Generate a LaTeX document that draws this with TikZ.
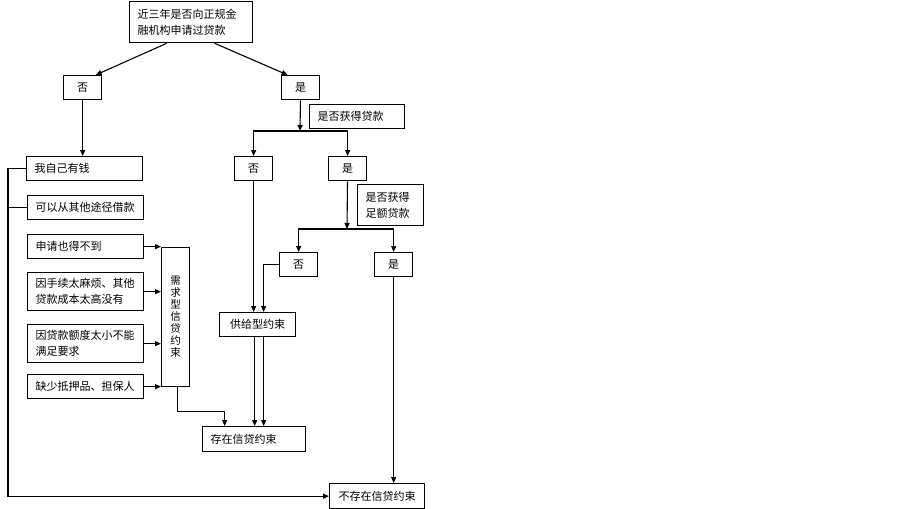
\documentclass[tikz,border=0pt]{standalone}
\usepackage{fontspec}
\newfontfamily\cjk{Noto Sans CJK SC}
\usetikzlibrary{arrows.meta}

\begin{document}
\begin{tikzpicture}[x=1pt, y=-1pt,
    box/.style={draw, line width=1.3pt, font=\cjk\fontsize{11}{16}\selectfont, inner xsep=8pt, inner ysep=0pt, align=left, anchor=north west},
    tag/.style={box, align=center, inner xsep=0pt, minimum width=38pt, minimum height=24pt},
    arr/.style={line width=1.1pt, -{Triangle[length=6pt,width=5pt]}},
    link/.style={line width=1.1pt}]
    \useasboundingbox (0,0) rectangle (903,509);

    \node[box, text width=107pt, minimum height=41pt] (ask) at (129,1) {近三年是否向正规金\\融机构申请过贷款};
    \node[tag] (no1) at (63,75) {否};
    \node[tag] (yes1) at (281,75) {是};
    \node[box, text width=79pt, minimum height=24pt] (got) at (309,104) {是否获得贷款};
    \node[tag] (no2) at (234,156) {否};
    \node[tag] (yes2) at (328,156) {是};
    \node[box, text width=50pt, minimum height=41pt] (enough) at (357,184) {是否获得\\足额贷款};
    \node[tag] (no3) at (279,252) {否};
    \node[tag] (yes3) at (374,252) {是};

    \node[box, text width=100pt, minimum height=24pt] (own) at (26,156) {我自己有钱};
    \node[box, text width=100pt, minimum height=24pt] (other) at (27,195) {可以从其他途径借款};
    \node[box, text width=100pt, minimum height=24pt] (refuse) at (27,234) {申请也得不到};
    \node[box, text width=100pt, minimum height=38pt] (cost) at (27,272) {因手续太麻烦、其他\\贷款成本太高没有};
    \node[box, text width=100pt, minimum height=38pt] (small) at (27,324) {因贷款额度太小不能\\满足要求};
    \node[box, text width=100pt, minimum height=24pt] (pledge) at (27,374) {缺少抵押品、担保人};
    \node[box, align=center, inner xsep=0pt, minimum width=28pt, minimum height=139pt, font=\cjk\fontsize{10.5}{12}\selectfont] (demand) at (161,247) {需\\求\\型\\信\\贷\\约\\束};

    \node[tag, minimum width=76pt] (supply) at (219,312) {供给型约束};
    \node[box, text width=87pt, minimum height=25pt] (exist) at (202,426) {存在信贷约束};
    \node[tag, minimum width=95pt, minimum height=25pt] (none) at (329,483) {不存在信贷约束};

    \coordinate (j1) at (300,131);
    \coordinate (j2) at (347,229);
    \coordinate (lft) at (8,0);

    \draw[arr] ([xshift=-24.5]ask.south) -- ([xshift=13]no1.north);
    \draw[arr] ([xshift=23.5]ask.south) -- ([xshift=-13]yes1.north);
    \draw[arr] (no1) -- (no1 |- own.north);
    \draw[arr] (yes1) -- (j1);
    \draw[arr] (j1) -| (no2.north);
    \draw[arr] (j1) -| (yes2.north);
    \draw[arr] (yes2) -- (j2);
    \draw[arr] (j2) -| (no3.north);
    \draw[arr] (j2) -| (yes3.north);

    \draw[arr] (no2) -- (no2 |- supply.north);
    \draw[arr] (no3.west) -| ([xshift=6]supply.north);
    \draw[arr] ([xshift=-3]supply.south) -- ([xshift=-3]supply.south |- exist.north);
    \draw[arr] ([xshift=6]supply.south) -- ([xshift=6]supply.south |- exist.north);
    \draw[arr] (yes3) -- (yes3 |- none.north);

    \draw[arr] (refuse.east) -- (refuse.east -| demand.west);
    \draw[arr] (cost.east) -- (cost.east -| demand.west);
    \draw[arr] (small.east) -- (small.east -| demand.west);
    \draw[arr] (pledge.east) -- (pledge.east -| demand.west);
    \draw[arr] ([xshift=1.5]demand.south) -- ++(0,24) -| ([xshift=-29.5]exist.north);

    \draw[arr] (own.west) -- (own.west -| lft) |- (none.west);
    \draw[link] (other.west) -- (other.west -| lft);
\end{tikzpicture}
\end{document}
